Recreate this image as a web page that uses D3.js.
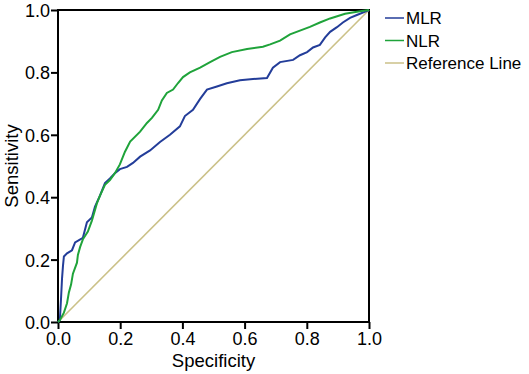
<!DOCTYPE html>
<html>
<head>
<meta charset="utf-8">
<script src="https://cdn.jsdelivr.net/npm/d3@7"></script>
<style>
  body { margin: 0; background: #fff; }
  svg text { font-family: "Liberation Sans", Arial, sans-serif; fill: #000; }
</style>
</head>
<body>
<div id="chart-area"></div>
<script>
// ROC curves: [1 - specificity axis value, sensitivity]
var mlrFpr = [0, 0.006, 0.01, 0.013, 0.016, 0.019, 0.029, 0.045, 0.055, 0.08, 0.093, 0.109, 0.119, 0.135, 0.151, 0.167, 0.183, 0.199, 0.222, 0.241, 0.264, 0.296, 0.328, 0.36, 0.392, 0.408, 0.434, 0.457, 0.479, 0.511, 0.543, 0.585, 0.627, 0.672, 0.691, 0.714, 0.756, 0.778, 0.801, 0.82, 0.842, 0.859, 0.875, 0.897, 0.916, 0.939, 0.961, 0.994, 1];
var mlrSens = [0, 0.006, 0.08, 0.14, 0.18, 0.21, 0.22, 0.23, 0.255, 0.27, 0.32, 0.335, 0.37, 0.405, 0.445, 0.46, 0.477, 0.49, 0.497, 0.51, 0.53, 0.55, 0.577, 0.6, 0.627, 0.66, 0.68, 0.715, 0.745, 0.755, 0.765, 0.775, 0.779, 0.782, 0.815, 0.833, 0.84, 0.855, 0.865, 0.88, 0.888, 0.912, 0.93, 0.945, 0.96, 0.975, 0.984, 0.997, 1];

var nlrFpr = [0, 0.006, 0.019, 0.029, 0.035, 0.042, 0.048, 0.061, 0.064, 0.071, 0.08, 0.096, 0.109, 0.125, 0.135, 0.151, 0.167, 0.183, 0.199, 0.215, 0.232, 0.264, 0.286, 0.302, 0.322, 0.334, 0.35, 0.37, 0.386, 0.402, 0.424, 0.457, 0.489, 0.521, 0.559, 0.608, 0.659, 0.682, 0.714, 0.746, 0.81, 0.842, 0.875, 0.923, 0.971, 1];
var nlrSens = [0, 0.006, 0.03, 0.06, 0.095, 0.12, 0.155, 0.19, 0.215, 0.24, 0.265, 0.29, 0.325, 0.38, 0.405, 0.44, 0.455, 0.477, 0.505, 0.545, 0.578, 0.61, 0.638, 0.654, 0.68, 0.71, 0.734, 0.745, 0.766, 0.785, 0.8, 0.815, 0.833, 0.85, 0.865, 0.875, 0.882, 0.89, 0.902, 0.922, 0.946, 0.96, 0.973, 0.988, 0.996, 1];

var refFpr = [0, 1];
var refSens = [0, 1];

var tickValues = [0, 0.2, 0.4, 0.6, 0.8, 1.0];

var seriesNames = ["MLR", "NLR", "Reference Line"];
var seriesColors = ["#233d99", "#1fa33a", "#cbc188"];

var margin = { left: 58, right: 160, top: 10, bottom: 52 };
var width = 529 - margin.left - margin.right;
var height = 374 - margin.top - margin.bottom;

var svg = d3.select("#chart-area")
    .append("svg")
    .attr("width", 529)
    .attr("height", 374)
    .append("g")
    .attr("transform", "translate(" + margin.left + ", " + margin.top + ")");

var x = d3.scaleLinear().domain([0, 1]).range([0, width]);
var y = d3.scaleLinear().domain([0, 1]).range([height, 0]);

var xAxis = d3.axisBottom(x).tickValues(tickValues).tickFormat(d3.format(".1f")).tickSize(7).tickSizeOuter(0);
var yAxis = d3.axisLeft(y).tickValues(tickValues).tickFormat(d3.format(".1f")).tickSize(7).tickSizeOuter(0);

var gx = svg.append("g")
    .attr("transform", "translate(0, " + height + ")")
    .call(xAxis);
var gy = svg.append("g").call(yAxis);

[gx, gy].forEach(function(g) {
    g.select(".domain").remove();
    g.selectAll("line").attr("stroke", "#000").attr("stroke-width", 2);
    g.selectAll("text").style("font-size", "18px").attr("fill", "#000");
});
gx.selectAll("text").attr("y", 10);
gy.selectAll("text").attr("x", -8).attr("dy", "0.36em");

// frame
svg.append("rect")
    .attr("x", 0)
    .attr("y", 0)
    .attr("width", width)
    .attr("height", height)
    .attr("fill", "none")
    .attr("stroke", "#000")
    .attr("stroke-width", 2);

var line = d3.line()
    .x(d => x(d[0]))
    .y(d => y(d[1]));

var series = [
    d3.zip(mlrFpr, mlrSens),
    d3.zip(nlrFpr, nlrSens),
    d3.zip(refFpr, refSens)
];

// draw reference first, then curves on top
[2, 0, 1].forEach(function(i) {
    svg.append("path")
        .datum(series[i])
        .attr("d", line)
        .attr("fill", "none")
        .attr("stroke", seriesColors[i])
        .attr("stroke-width", i === 2 ? 1.6 : 2)
        .attr("stroke-linejoin", "miter");
});

// legend
var legend = svg.append("g")
    .attr("transform", "translate(" + (width + 16) + ", 8)");

seriesNames.forEach(function(name, i) {
    var row = legend.append("g").attr("transform", "translate(0, " + (i * 22.5) + ")");
    row.append("line")
        .attr("x1", 0)
        .attr("x2", 19)
        .attr("y1", 0)
        .attr("y2", 0)
        .attr("stroke", seriesColors[i])
        .attr("stroke-width", 1.5);
    row.append("text")
        .attr("x", 21)
        .attr("y", 0)
        .attr("dy", "0.36em")
        .style("font-size", "17px")
        .text(name);
});

svg.append("text")
    .attr("x", width / 2)
    .attr("y", height + 45)
    .attr("text-anchor", "middle")
    .style("font-size", "18.5px")
    .text("Specificity");

svg.append("text")
    .attr("x", -(height / 2))
    .attr("y", -40)
    .attr("text-anchor", "middle")
    .attr("transform", "rotate(-90)")
    .style("font-size", "18.5px")
    .text("Sensitivity");
</script>
</body>
</html>
